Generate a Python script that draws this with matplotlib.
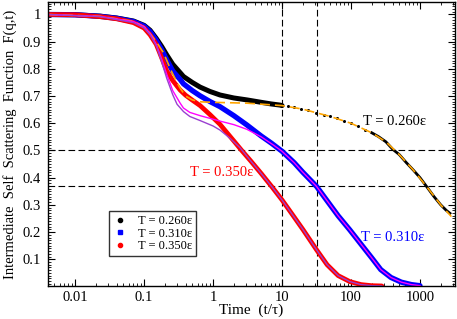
import numpy as np
import matplotlib
matplotlib.use("Agg")
import matplotlib.pyplot as plt
from matplotlib.lines import Line2D
from matplotlib.ticker import MultipleLocator, FixedLocator, LogLocator, NullFormatter

plt.rcParams['font.family'] = ['Liberation Serif', 'DejaVu Serif']

# T = 0.260 data (dense part, sparse dots, tail)
t_black = [0.004, 0.01, 0.023, 0.04, 0.07, 0.1, 0.122, 0.15, 0.18, 0.213, 0.26, 0.3, 0.333, 0.372, 0.5, 0.648, 0.9, 1.26, 2, 3.08, 5, 7, 9.3, 10]
f_black = [1.0, 0.999, 0.994, 0.987, 0.976, 0.96, 0.942, 0.912, 0.882, 0.851, 0.817, 0.799, 0.786, 0.772, 0.75, 0.733, 0.717, 0.704, 0.693, 0.686, 0.677, 0.671, 0.667, 0.665]
t_black_dots = [12, 15, 19, 24, 31, 40, 50, 62, 78, 100, 125, 160]
f_black_dots = [0.662, 0.659, 0.654, 0.647, 0.639, 0.632, 0.625, 0.618, 0.610, 0.600, 0.590, 0.577]
t_black_tail = [200, 250, 320, 400, 500, 630, 800, 1000, 1250, 1600, 2000, 2400, 2720]
f_black_tail = [0.565, 0.551, 0.532, 0.505, 0.485, 0.456, 0.428, 0.40, 0.367, 0.33, 0.30, 0.28, 0.269]

# fit to T = 0.260 (orange dashed)
t_fit260 = [0.004, 0.023, 0.07, 0.1, 0.122, 0.15, 0.19, 0.25, 0.3, 0.333, 0.4, 0.5, 0.648, 1, 3.08, 10, 20, 31, 50, 100, 200, 320, 500, 800, 1250, 2000, 2850]
f_fit260 = [1.0, 0.993, 0.975, 0.955, 0.93, 0.9, 0.86, 0.79, 0.75, 0.729, 0.70, 0.686, 0.679, 0.677, 0.674, 0.665, 0.652, 0.639, 0.625, 0.60, 0.565, 0.532, 0.485, 0.428, 0.367, 0.30, 0.257]

# T = 0.310 data
t_blue = [0.004, 0.01, 0.023, 0.04, 0.07, 0.1, 0.122, 0.15, 0.18, 0.213, 0.26, 0.333, 0.372, 0.5, 0.648, 0.9, 1.26, 2, 3.08, 5, 7, 10, 15, 20, 31.6, 45, 65, 96, 140, 200, 270, 380, 535, 750, 1000]
f_blue = [1.0, 0.999, 0.993, 0.986, 0.974, 0.957, 0.937, 0.905, 0.87, 0.833, 0.792, 0.761, 0.745, 0.72, 0.701, 0.68, 0.661, 0.628, 0.594, 0.553, 0.527, 0.497, 0.455, 0.42, 0.368, 0.315, 0.26, 0.208, 0.155, 0.105, 0.062, 0.033, 0.016, 0.007, 0.003]

# fit to T = 0.310 (magenta)
t_fit310 = [0.004, 0.023, 0.07, 0.1, 0.122, 0.15, 0.18, 0.213, 0.26, 0.333, 0.372, 0.46, 0.648, 1.0, 1.26, 2, 3.08, 5, 7.5, 10, 15, 20, 31.6, 45, 65, 96, 140, 200, 270, 380, 535, 750, 1000]
f_fit310 = [1.0, 0.993, 0.974, 0.955, 0.93, 0.89, 0.835, 0.78, 0.72, 0.674, 0.656, 0.64, 0.628, 0.615, 0.608, 0.595, 0.578, 0.55, 0.52, 0.497, 0.455, 0.42, 0.368, 0.315, 0.26, 0.208, 0.155, 0.105, 0.062, 0.033, 0.016, 0.007, 0.003]

# T = 0.350 data
t_red = [0.004, 0.01, 0.023, 0.04, 0.07, 0.1, 0.122, 0.15, 0.18, 0.213, 0.26, 0.333, 0.4, 0.5, 0.648, 0.9, 1.26, 2, 2.6, 3.5, 5, 7.2, 10, 15, 20, 31.6, 45, 65, 96, 140, 200, 280]
f_red = [1.0, 0.999, 0.992, 0.984, 0.97, 0.95, 0.925, 0.89, 0.84, 0.792, 0.757, 0.722, 0.703, 0.685, 0.665, 0.632, 0.596, 0.535, 0.50, 0.462, 0.415, 0.365, 0.318, 0.255, 0.21, 0.135, 0.08, 0.04, 0.018, 0.007, 0.003, 0.002]

# fit to T = 0.350 (purple)
t_fit350 = [0.004, 0.023, 0.07, 0.1, 0.122, 0.15, 0.18, 0.213, 0.26, 0.3, 0.372, 0.46, 0.648, 1, 1.26, 1.76, 2.46, 3.5, 5, 7.2, 10, 15, 20, 31.6, 45, 65, 96, 140, 200, 280]
f_fit350 = [1.0, 0.992, 0.97, 0.95, 0.925, 0.885, 0.825, 0.765, 0.705, 0.67, 0.643, 0.625, 0.61, 0.59, 0.575, 0.545, 0.51, 0.462, 0.415, 0.365, 0.318, 0.255, 0.21, 0.135, 0.08, 0.04, 0.018, 0.007, 0.003, 0.002]

labels = ["T = 0.260\u03b5", "T = 0.310\u03b5", "T = 0.350\u03b5"]

fig = plt.figure(figsize=(4.57, 3.19), dpi=100)
ax = fig.add_axes([0.1044, 0.1019, 0.8923, 0.8928])

# reference lines: 0.5, 1/e, t = 10 and 10^1.5
dash = (0, (6, 3))
ax.axhline(0.5, color='black', lw=0.8, ls=dash)
ax.axhline(1 / np.e, color='black', lw=0.8, ls=dash)
ax.axvline(10, color='black', lw=0.8, ls=dash)
ax.axvline(10 ** 1.5, color='black', lw=0.8, ls=dash)

ax.plot(t_black, f_black, color='black', lw=3.6, solid_capstyle='round')
ax.plot(t_black_dots, f_black_dots, 'o', color='black', ms=2.2, mew=0)
ax.plot(t_black_tail, f_black_tail, color='black', lw=2.0)
ax.plot(t_blue, f_blue, color='blue', lw=3.8, solid_capstyle='round')
ax.plot(t_red, f_red, color='red', lw=3.4, solid_capstyle='round')

ax.plot(t_fit260, f_fit260, color='orange', lw=1.2, ls=dash)
ax.plot(t_fit310, f_fit310, color='magenta', lw=1.0)
ax.plot(t_fit350, f_fit350, color='#9a3fd0', lw=1.0)

ax.text(433, 0.605, labels[0], color='black', fontsize=10.5, ha='center', va='center')
ax.text(405, 0.18, labels[1], color='blue', fontsize=10.5, ha='center', va='center')
ax.text(1.35, 0.42, labels[2], color='red', fontsize=10.5, ha='center', va='center')

ax.set_xscale('log')
ax.set_xlim(0.004, 3270)
ax.set_ylim(0, 1.047)

ax.xaxis.set_major_locator(FixedLocator([0.01, 0.1, 1, 10, 100, 1000]))
ax.set_xticklabels(['0.01', '0.1', '1', '10', '100', '1000'])
ax.xaxis.set_minor_locator(LogLocator(base=10, subs=np.arange(2, 10), numticks=20))
ax.xaxis.set_minor_formatter(NullFormatter())
ax.yaxis.set_major_locator(FixedLocator([0.1, 0.2, 0.3, 0.4, 0.5, 0.6, 0.7, 0.8, 0.9, 1.0]))
ax.set_yticklabels(['0.1', '0.2', '0.3', '0.4', '0.5', '0.6', '0.7', '0.8', '0.9', '1'])
ax.yaxis.set_minor_locator(MultipleLocator(0.01))

ax.tick_params(which='both', direction='in', top=True, right=True, labelsize=10.5)
ax.tick_params(axis='x', pad=3)
ax.tick_params(axis='y', pad=5)
ax.tick_params(which='major', length=5, width=0.8)
ax.tick_params(which='minor', length=2.5, width=0.6)
for s in ax.spines.values():
    s.set_linewidth(1.0)

ax.set_xlabel('Time  (t/\u03c4)', fontsize=11, labelpad=0)
ax.set_ylabel('Intermediate  Self  Scattering  Function  F(q,t)', fontsize=10.5, labelpad=4)

handles = [
    Line2D([], [], ls='none', marker='o', color='black', ms=3),
    Line2D([], [], ls='none', marker='s', color='blue', ms=3),
    Line2D([], [], ls='none', marker='o', color='red', ms=3),
]
leg = ax.legend(handles, labels, loc='lower left', bbox_to_anchor=(0.15, 0.107),
                fontsize=9, frameon=True, fancybox=False, framealpha=1,
                edgecolor='#333333', handlelength=1.2, handletextpad=0.8,
                borderpad=0.3, labelspacing=0.05, borderaxespad=0)
leg.get_frame().set_linewidth(1.0)

fig.savefig('out.png', dpi=100)
